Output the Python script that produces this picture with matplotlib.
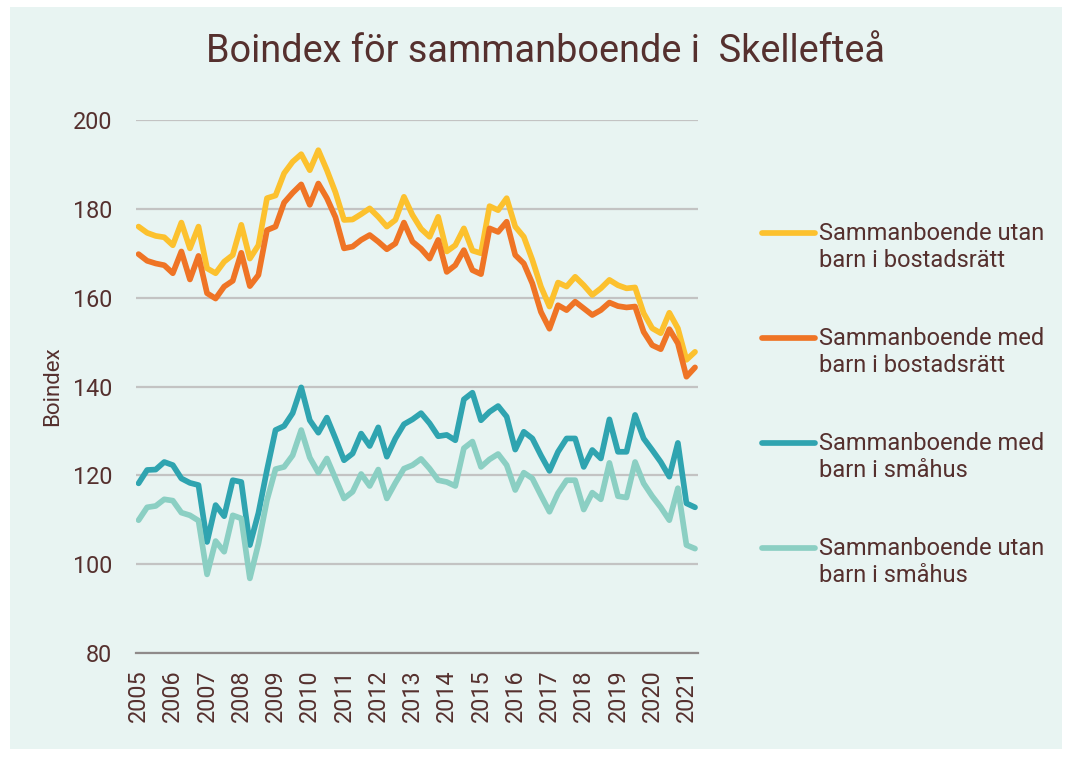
import matplotlib
matplotlib.use("Agg")
import matplotlib.pyplot as plt
from matplotlib.lines import Line2D
from matplotlib.patches import FancyBboxPatch

plt.rcParams['font.family'] = ['Roboto', 'DejaVu Sans']

years = [str(y) for y in range(2005, 2022)]

# Quarterly index values, 2005 Q1 - 2021 Q2
utan_bostadsratt = [
    176.0, 174.6, 173.9, 173.6, 171.8, 176.9, 171.1, 176.0,
    166.6, 165.5, 168.1, 169.6, 176.4, 168.8, 171.8, 182.4,
    183.0, 188.0, 190.6, 192.3, 188.7, 193.2, 188.7, 183.7,
    177.5, 177.6, 178.8, 180.1, 178.2, 176.0, 177.5, 182.7,
    178.6, 175.5, 173.7, 178.2, 170.4, 171.8, 175.6, 170.6,
    170.0, 180.6, 179.7, 182.4, 176.0, 173.7, 168.5, 162.5,
    158.0, 163.4, 162.5, 164.7, 162.8, 160.6, 162.1, 164.0,
    162.8, 162.1, 162.3, 156.5, 153.1, 152.0, 156.6, 153.1,
    146.0, 147.8,
]
med_bostadsratt = [
    169.8, 168.3, 167.7, 167.3, 165.5, 170.4, 164.1, 169.4,
    161.0, 159.8, 162.5, 163.8, 170.1, 162.6, 165.1, 175.2,
    176.0, 181.4, 183.6, 185.5, 180.9, 185.7, 182.4, 178.1,
    171.1, 171.5, 173.0, 174.1, 172.6, 170.9, 172.2, 176.9,
    172.6, 171.0, 168.8, 173.0, 165.8, 167.3, 170.7, 166.2,
    165.3, 175.6, 174.8, 177.1, 169.6, 167.7, 163.2, 156.8,
    153.0, 158.3, 157.2, 159.1, 157.6, 156.1, 157.2, 158.9,
    158.1, 157.8, 158.0, 152.3, 149.3, 148.4, 152.9, 149.7,
    142.2, 144.3,
]
med_smahus = [
    118.2, 121.2, 121.3, 123.0, 122.3, 119.3, 118.3, 117.8,
    105.0, 113.3, 110.8, 118.9, 118.5, 104.3, 111.5, 121.2,
    130.2, 131.1, 134.0, 139.8, 132.4, 129.6, 133.0, 128.3,
    123.4, 124.9, 129.4, 126.6, 130.8, 124.2, 128.3, 131.5,
    132.6, 134.0, 131.7, 128.8, 129.1, 127.9, 137.1, 138.6,
    132.4, 134.3, 135.6, 133.2, 125.8, 129.8, 128.3, 124.5,
    121.0, 125.3, 128.3, 128.3, 121.9, 125.7, 123.8, 132.6,
    125.3, 125.3, 133.6, 128.3, 125.7, 123.0, 119.7, 127.3,
    113.7, 112.8,
]
utan_smahus = [
    109.9, 112.8, 113.1, 114.6, 114.3, 111.6, 111.0, 109.8,
    97.7, 105.2, 102.8, 111.0, 110.3, 96.8, 104.6, 114.4,
    121.4, 121.9, 124.5, 130.2, 124.0, 120.6, 123.8, 119.3,
    114.8, 116.3, 120.3, 117.6, 121.3, 114.8, 118.3, 121.5,
    122.3, 123.7, 121.5, 118.9, 118.5, 117.6, 126.1, 127.6,
    121.9, 123.6, 124.8, 122.3, 116.7, 120.6, 119.3, 115.5,
    111.8, 116.0, 118.9, 118.9, 112.3, 116.1, 114.6, 122.8,
    115.3, 115.0, 123.0, 118.2, 115.3, 112.8, 109.9, 117.1,
    104.3, 103.5,
]

series = [
    (utan_bostadsratt, "#FCC12E", "Sammanboende utan\nbarn i bostadsrätt"),
    (med_bostadsratt, "#EF7425", "Sammanboende med\nbarn i bostadsrätt"),
    (med_smahus, "#2FA4B0", "Sammanboende med\nbarn i småhus"),
    (utan_smahus, "#8BCFC3", "Sammanboende utan\nbarn i småhus"),
]

text_color = "#55302E"
bg = "#E8F4F2"

fig = plt.figure(figsize=(10.71, 7.57), dpi=100, facecolor="white")
fig.add_artist(FancyBboxPatch((10 / 1071, 8 / 757), 1052 / 1071, 742 / 757,
                              boxstyle="square,pad=0", transform=fig.transFigure,
                              facecolor=bg, edgecolor="none", zorder=-10))

ax = fig.add_axes([136 / 1071, 1 - 653 / 757, 562 / 1071, 533 / 757])
ax.set_facecolor("none")

x = list(range(len(utan_bostadsratt)))
for vals, color, label in series:
    ax.plot(x, vals, color=color, lw=4.1, solid_joinstyle="round",
            solid_capstyle="round", zorder=3)

ax.set_xlim(-0.3, 65.35)
ax.set_ylim(80, 200)
ax.set_yticks(range(80, 201, 20))
ax.set_xticks(range(0, 65, 4))
ax.set_xticklabels(years, rotation=90)
ax.tick_params(axis="both", length=0, labelsize=16.8, labelcolor=text_color)
ax.tick_params(axis="x", pad=12)
ax.tick_params(axis="y", pad=17)
for lbl in ax.get_yticklabels():
    lbl.set_horizontalalignment("right")

ax.grid(axis="y", color="#C3C3C3", lw=1.6, zorder=0)
for s in ["top", "right", "left"]:
    ax.spines[s].set_visible(False)
ax.spines["bottom"].set_color("#8F8A8A")
ax.spines["bottom"].set_linewidth(1.6)

ax.set_ylabel("Boindex", fontsize=16, color=text_color, labelpad=7)

fig.text(545 / 1071, 1 - 52 / 757, "Boindex för sammanboende i  Skellefteå",
         ha="center", va="center", fontsize=27.3, color=text_color)

# Legend entries on the right
y_first = [233, 338, 443, 548]
for (vals, color, label), yy in zip(series, y_first):
    fy = 1 - yy / 757
    fig.add_artist(Line2D([762 / 1071, 815 / 1071], [fy, fy], color=color,
                          lw=4.1, solid_capstyle="round",
                          transform=fig.transFigure))
    fig.text(819 / 1071, fy + 11 / 757, label, ha="left", va="top",
             fontsize=17, color=text_color, linespacing=1.2)

fig.savefig("out.png", dpi=100, facecolor="white")
